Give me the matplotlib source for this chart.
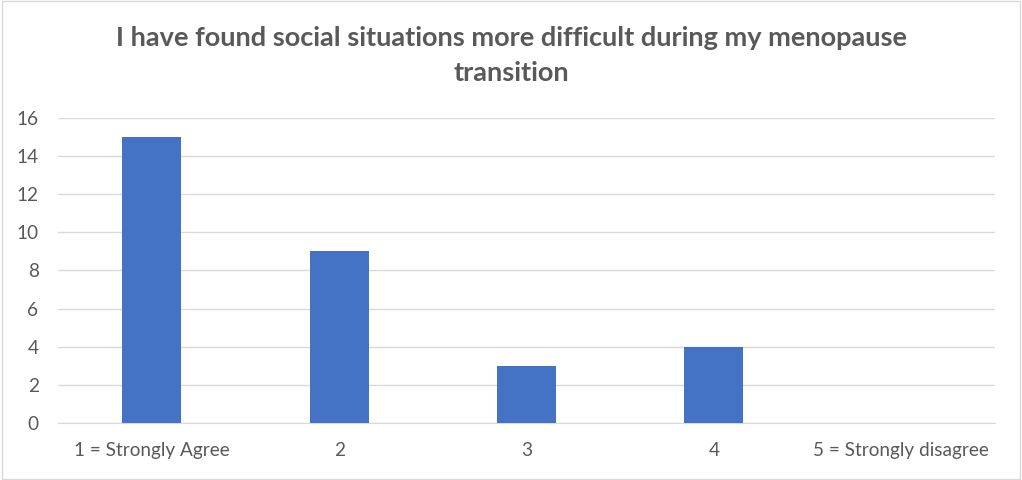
import matplotlib.pyplot as plt
from matplotlib.patches import Rectangle

categories = ["1 = Strongly Agree", "2", "3", "4", "5 = Strongly disagree"]
counts = [15, 9, 3, 4, 0]
y_ticks = [0, 2, 4, 6, 8, 10, 12, 14, 16]
title = "I have found social situations more difficult during my menopause\ntransition"

plt.rcParams['font.family'] = ['Lato', 'DejaVu Sans']
text_color = '#595959'

fig = plt.figure(figsize=(10.22, 4.8), dpi=100)
ax = fig.add_axes([0.0568, 0.1188, 0.9168, 0.6354])

x = list(range(len(categories)))
ax.bar(x, counts, width=0.315, color='#4472c4', zorder=3)

ax.set_xlim(-0.5, len(categories) - 0.5)
ax.set_ylim(0, 16)
ax.set_yticks(y_ticks)
ax.set_xticks(x)
ax.set_xticklabels(categories)
ax.tick_params(axis='both', length=0, labelsize=13.7, colors=text_color)
ax.tick_params(axis='x', pad=14)
ax.tick_params(axis='y', pad=14)
ax.grid(axis='y', color='#d9d9d9', linewidth=1, zorder=0)
for side in ['top', 'right', 'left']:
    ax.spines[side].set_visible(False)
ax.spines['bottom'].set_color('#d9d9d9')

fig.text(0.5, 0.885, title, ha='center', va='center', fontsize=19.5,
         fontweight='bold', color=text_color, linespacing=1.55)

fig.patches.append(Rectangle((0.0015, 0.002), 0.997, 0.996, transform=fig.transFigure,
                             fill=False, edgecolor='#d9d9d9', linewidth=1))

fig.savefig('out.png', dpi=100)
